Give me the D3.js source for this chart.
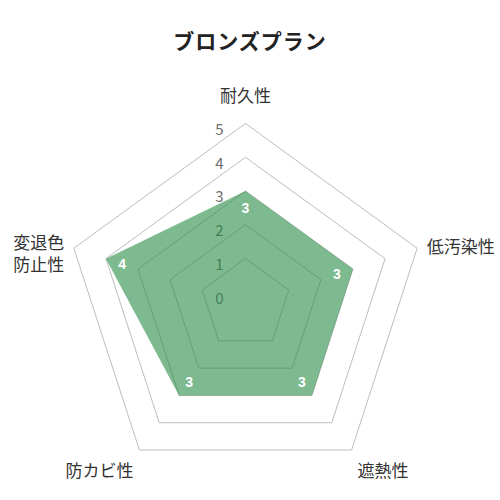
<!DOCTYPE html>
<html>
<head>
<meta charset="utf-8">
<script src="https://cdn.jsdelivr.net/npm/d3@7"></script>
<style>
  html, body { margin: 0; padding: 0; background: #fff; }
  svg { display: block; font-family: "Noto Sans CJK JP", "Noto Sans", sans-serif; }
</style>
</head>
<body>
<svg id="chart" width="500" height="500"></svg>
<script>
// データ
const title = 'ブロンズプラン';
const axes = [['耐久性'], ['低汚染性'], ['遮熱性'], ['防カビ性'], ['変退色', '防止性']];
const values = [3, 3, 3, 3, 4];
const ticks = [0, 1, 2, 3, 4, 5];

const svg = d3.select('#chart');
const cx = 245.5;
const cy = 304;
const outer = 180.5;

// 0 はちょうど中心ではなく少し外側に置かれている
const r = d3.scaleLinear().domain([-0.35, 5]).range([0, outer]);
const angle = d3.scaleLinear().domain([0, axes.length]).range([-Math.PI / 2, Math.PI * 1.5]);

const pt = (i, rad) => [cx + rad * Math.cos(angle(i)), cy + rad * Math.sin(angle(i))];

// タイトル
svg.append('text')
  .attr('x', 250).attr('y', 40)
  .attr('text-anchor', 'middle')
  .attr('dominant-baseline', 'central')
  .attr('font-size', 21).attr('font-weight', 'bold')
  .attr('letter-spacing', 1)
  .attr('fill', '#222')
  .text(title);

// グリッド（五角形）、0 の線は描かない
const line = d3.line();
svg.append('g').selectAll('path')
  .data(ticks.filter(t => t > 0))
  .join('path')
  .attr('d', t => line(axes.map((_, i) => pt(i, r(t)))) + 'Z')
  .attr('fill', 'none')
  .attr('stroke', '#bdbdbd')
  .attr('stroke-width', 1);

// 目盛りラベル
svg.append('g').selectAll('text')
  .data(ticks)
  .join('text')
  .attr('x', cx - 26)
  .attr('y', t => cy - r(t) + 5)
  .attr('text-anchor', 'middle')
  .attr('dominant-baseline', 'central')
  .attr('font-size', 15)
  .attr('fill', '#6e6e6e')
  .text(t => t);

// データの多角形
svg.append('path')
  .attr('d', line(values.map((v, i) => pt(i, r(v)))) + 'Z')
  .attr('fill', 'rgba(40,140,70,0.6)')
  .attr('stroke', 'none');

// 値ラベル
svg.append('g').selectAll('text')
  .data(values)
  .join('text')
  .attr('x', (v, i) => pt(i, r(v) - 17)[0])
  .attr('y', (v, i) => pt(i, r(v) - 17)[1])
  .attr('text-anchor', 'middle')
  .attr('dominant-baseline', 'central')
  .attr('font-size', 14).attr('font-weight', 'bold')
  .attr('font-family', 'Arial, "Liberation Sans", sans-serif')
  .attr('fill', '#fff')
  .text(v => v);

// 軸ラベル
const lineH = 22;
const labelG = svg.append('g');
axes.forEach((lines, i) => {
  const [x, y] = pt(i, outer + 10);
  const c = Math.cos(angle(i)), s = Math.sin(angle(i));
  const anchor = c > 0.1 ? 'start' : c < -0.1 ? 'end' : 'middle';
  const h = lines.length * lineH;
  let top;
  if (s < -0.9) top = y - 8 - h;
  else if (s > 0.5) top = y;
  else top = y - h / 2 + (lines.length - 1) * 7;
  lines.forEach((txt, k) => {
    labelG.append('text')
      .attr('text-anchor', anchor)
      .attr('font-size', 17)
      .attr('fill', '#333')
      .attr('x', x)
      .attr('y', top + lineH * k + lineH / 2)
      .attr('dominant-baseline', 'central')
      .text(txt);
  });
});
</script>
</body>
</html>
